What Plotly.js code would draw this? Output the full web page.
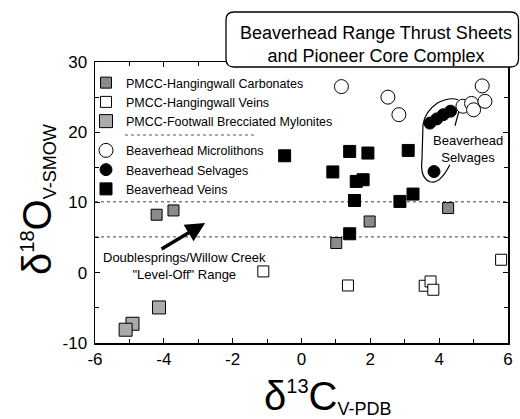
<!DOCTYPE html>
<html>
<head>
<meta charset="utf-8">
<script src="https://cdn.plot.ly/plotly-3.0.1.min.js"></script>
<style>html,body{margin:0;padding:0;background:#fff;}#chart{width:520px;height:419px;}</style>
</head>
<body>
<div id="chart"></div>
<script>
// ---- data (δ13C V-PDB, δ18O V-SMOW) ----
var hwCarbX = [-4.21, -3.72, 4.26, 1.98, 1.01];
var hwCarbY = [8.26, 8.87, 9.21, 7.30, 4.23];
var hwVeinX = [-1.11, 1.35, 3.58, 3.75, 3.83, 5.80];
var hwVeinY = [0.19, -1.81, -1.85, -1.24, -2.42, 1.85];
var fwMyloX = [-4.14, -4.91, -5.11];
var fwMyloY = [-4.94, -7.26, -8.11];
var bhMicroX = [1.16, 2.51, 2.83, 4.69, 4.94, 5.00, 5.25, 5.33];
var bhMicroY = [26.5, 25.0, 22.5, 23.7, 24.1, 23.2, 26.6, 24.4];
var bhSelvX = [3.73, 3.93, 4.12, 4.33, 3.85];
var bhSelvY = [21.3, 21.9, 22.5, 23.0, 14.4];
var bhVeinX = [-0.49, 1.40, 1.93, 3.10, 0.91, 1.59, 1.79, 1.54, 2.86, 3.24, 1.40];
var bhVeinY = [16.65, 17.27, 17.04, 17.41, 14.35, 13.0, 13.24, 10.29, 10.15, 11.2, 5.55];
var levelOffRange = [5.1, 10.1];
var xTicks = [-6, -4, -2, 0, 2, 4, 6];
var yTicks = [-10, 0, 10, 20, 30];

var FONT = 'Liberation Sans, Arial, Helvetica, sans-serif';

var traces = [
  {name: 'PMCC-Hangingwall Carbonates', x: hwCarbX, y: hwCarbY, legendgroup: 'a', legendrank: 1,
   marker: {symbol: 'square', size: 11, color: '#8a8a8a', line: {color: '#000', width: 1}}},
  {name: 'PMCC-Hangingwall Veins', x: hwVeinX, y: hwVeinY, legendgroup: 'a', legendrank: 2,
   marker: {symbol: 'square', size: 11, color: '#fff', line: {color: '#000', width: 1}}},
  {name: 'PMCC-Footwall Brecciated Mylonites', x: fwMyloX, y: fwMyloY, legendgroup: 'a', legendrank: 3,
   marker: {symbol: 'square', size: 13, color: '#ababab', line: {color: '#000', width: 1}}},
  {name: 'Beaverhead Veins', x: bhVeinX, y: bhVeinY, legendgroup: 'b', legendrank: 6,
   marker: {symbol: 'square', size: 12, color: '#000', line: {color: '#000', width: 1}}},
  {name: 'Beaverhead Selvages', x: bhSelvX, y: bhSelvY, legendgroup: 'b', legendrank: 5,
   marker: {symbol: 'circle', size: 12, color: '#000', line: {color: '#000', width: 1}}},
  {name: 'Beaverhead Microlithons', x: bhMicroX, y: bhMicroY, legendgroup: 'b', legendrank: 4,
   marker: {symbol: 'circle', size: 14, color: '#fff', line: {color: '#000', width: 1}}}
].map(function (t) { t.type = 'scatter'; t.mode = 'markers'; return t; });

var L = 95, R = 508, T = 62, B = 343;
function px2px(x) { return (x - L) / (R - L); }
function py2py(y) { return (B - y) / (B - T); }

// rounded title box in paper coordinates
var bx0 = px2px(226), bx1 = px2px(518.5), by1 = py2py(12), by0 = py2py(67);
var rx = 8 / (R - L), ry = 8 / (B - T);
var boxPath = 'M ' + (bx0 + rx) + ',' + by1 + ' L ' + (bx1 - rx) + ',' + by1 +
  ' Q ' + bx1 + ',' + by1 + ' ' + bx1 + ',' + (by1 - ry) +
  ' L ' + bx1 + ',' + (by0 + ry) + ' Q ' + bx1 + ',' + by0 + ' ' + (bx1 - rx) + ',' + by0 +
  ' L ' + (bx0 + rx) + ',' + by0 + ' Q ' + bx0 + ',' + by0 + ' ' + bx0 + ',' + (by0 + ry) +
  ' L ' + bx0 + ',' + (by1 - ry) + ' Q ' + bx0 + ',' + by1 + ' ' + (bx0 + rx) + ',' + by1 + ' Z';

var shapes = [
  {type: 'line', xref: 'paper', yref: 'y', x0: 0, x1: 1, y0: levelOffRange[1], y1: levelOffRange[1],
   line: {color: '#444', width: 1, dash: 'dot'}, layer: 'below'},
  {type: 'line', xref: 'paper', yref: 'y', x0: 0, x1: 1, y0: levelOffRange[0], y1: levelOffRange[0],
   line: {color: '#444', width: 1, dash: 'dot'}, layer: 'below'},
  // legend separator
  {type: 'line', xref: 'paper', yref: 'paper', x0: px2px(125), x1: px2px(257), y0: py2py(135), y1: py2py(135),
   line: {color: '#555', width: 1, dash: 'dot'}},
  // lasso around the selvages
  {type: 'path', xref: 'x', yref: 'y', layer: 'above',
   path: 'M 4.31,15.37 Q 4.02,12.53 3.73,12.95 Q 3.44,13.52 3.50,16.09 L 3.53,21.07 Q 3.58,22.92 3.96,24.2 Q 4.31,25.05 4.55,24.63',
   line: {color: '#000', width: 1.2}},
  {type: 'path', xref: 'x', yref: 'y', layer: 'above',
   path: 'M 4.46,20.93 L 4.57,22.92', line: {color: '#000', width: 1.2}},
  // title box
  {type: 'path', xref: 'paper', yref: 'paper', layer: 'above', path: boxPath,
   fillcolor: '#fff', line: {color: '#000', width: 1.3}}
];

var annotations = [
  {xref: 'x', yref: 'y', x: -3.41, y: 1.0, text: 'Doublesprings/Willow Creek<br>"Level-Off" Range',
   showarrow: false, font: {family: FONT, size: 13, color: '#000'}, align: 'center'},
  {xref: 'x', yref: 'y', x: -2.80, y: 7.08, ax: -4.11, ay: 3.24, axref: 'x', ayref: 'y', text: '',
   showarrow: true, arrowhead: 2, arrowsize: 1.1, arrowwidth: 3.5, arrowcolor: '#000', standoff: 0},
  {xref: 'x', yref: 'y', x: 4.84, y: 17.6, text: 'Beaverhead<br>Selvages',
   showarrow: false, font: {family: FONT, size: 13, color: '#000'}, align: 'center'},
  // axis titles
  {xref: 'paper', yref: 'paper', x: px2px(327), y: py2py(396), xanchor: 'center', yanchor: 'middle',
   text: 'δ<sup><span style="font-size:20px">13</span></sup>C<span style="font-size:26px"><sub><span style="font-size:18px">V-PDB</span></sub></span>',
   showarrow: false, font: {family: FONT, size: 40, color: '#000'}},
  {xref: 'paper', yref: 'paper', x: px2px(37), y: py2py(200), xanchor: 'center', yanchor: 'middle', textangle: -90,
   text: 'δ<sup><span style="font-size:20px">18</span></sup>O<span style="font-size:26px"><sub><span style="font-size:18px">V-SMOW</span></sub></span>',
   showarrow: false, font: {family: FONT, size: 40, color: '#000'}}
];

var axisCommon = {
  showgrid: false, zeroline: false, showline: true, linecolor: '#000', linewidth: 1.5, mirror: 'ticks',
  ticks: 'inside', ticklen: 5, tickwidth: 1.2, tickcolor: '#000',
  tickfont: {family: FONT, size: 17, color: '#000'}, tickmode: 'array',
  minor: {ticks: 'inside', ticklen: 4, tickwidth: 1, tickcolor: '#000', showgrid: false}
};

var layout = {
  width: 520, height: 419,
  margin: {l: L, r: 520 - R, t: T, b: 419 - B},
  paper_bgcolor: '#fff', plot_bgcolor: '#fff',
  font: {family: FONT, color: '#000'},
  title: {text: 'Beaverhead Range Thrust Sheets<br>and Pioneer Core Complex',
          font: {family: FONT, size: 18, color: '#000'},
          xref: 'container', yref: 'container', x: 376 / 520, xanchor: 'center', y: 1 - 39 / 419, yanchor: 'middle'},
  xaxis: Object.assign({}, axisCommon, {range: [-6, 6], tickvals: xTicks, ticktext: xTicks.map(String),
    minor: Object.assign({}, axisCommon.minor, {dtick: 1, tick0: 0, tickmode: 'linear'}), ticklabelstandoff: 0}),
  yaxis: Object.assign({}, axisCommon, {range: [-10, 30], tickvals: yTicks, ticktext: yTicks.map(String),
    minor: Object.assign({}, axisCommon.minor, {dtick: 5, tick0: 0, tickmode: 'linear'}), ticklabelstandoff: 3}),
  showlegend: true,
  legend: {x: px2px(86), y: py2py(68), xanchor: 'left', yanchor: 'top', bgcolor: 'rgba(0,0,0,0)',
           borderwidth: 0, traceorder: 'grouped', tracegroupgap: 10, itemwidth: 30,
           font: {family: FONT, size: 12.5, color: '#000'}},
  shapes: shapes,
  annotations: annotations
};

Plotly.newPlot('chart', traces, layout, {displayModeBar: false, staticPlot: true});
</script>
</body>
</html>
